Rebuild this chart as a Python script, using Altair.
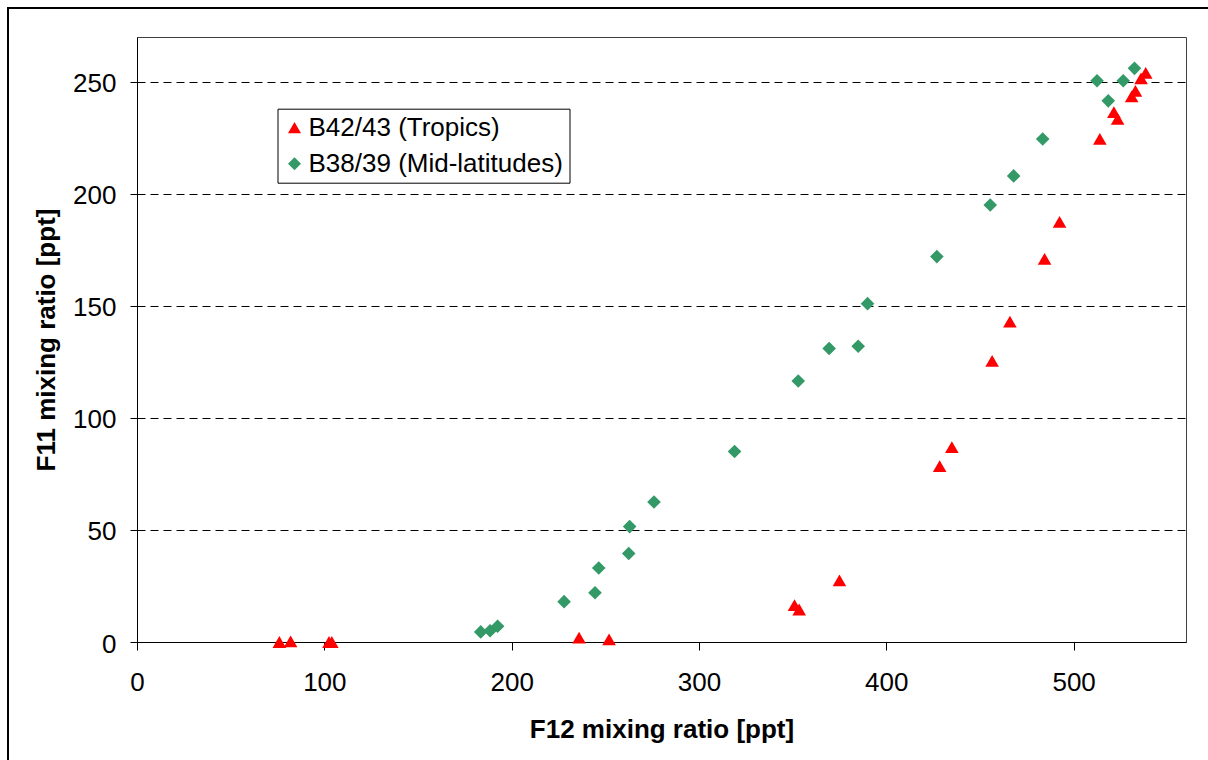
import altair as alt
import pandas as pd

# Tropics (red triangles): F12 [ppt], F11 [ppt]
trop_f12 = [76, 82, 102.5, 104, 236, 252, 351, 353.5, 375, 428.5, 435, 456.5, 466,
            484.5, 492.5, 514, 521.5, 523.5, 531, 533, 536, 538.5]
trop_f11 = [0, 0.3, 0, 0, 2, 1.2, 16.5, 14.5, 27.5, 78.5, 87, 125.5, 143,
            171, 187.5, 224.5, 236.5, 233.5, 243.5, 246, 251.5, 254]

# Mid-latitudes (green diamonds)
mid_f12 = [183.5, 188.5, 192.5, 228, 244.5, 246.5, 262.5, 263, 276, 319, 353, 369.5,
           385, 390, 427, 455.5, 468, 483.5, 512.5, 518.5, 526.5, 532.5]
mid_f11 = [4.5, 5, 7, 18, 22, 33, 39.5, 51.5, 62.5, 85, 116.5, 131,
           132, 151, 172, 195, 208, 224.5, 250.5, 241.5, 250.5, 256]

TROP = "B42/43 (Tropics)"
MID = "B38/39 (Mid-latitudes)"
series_names = [TROP, MID]
series_colors = ["#FF0000", "#339966"]
series_shapes = ["triangle-up", "diamond"]

x_ticks = [0, 100, 200, 300, 400, 500]
y_ticks = [0, 50, 100, 150, 200, 250]

rows = [{"f12": a, "f11": b, "series": MID} for a, b in zip(mid_f12, mid_f11)]
rows += [{"f12": a, "f11": b, "series": TROP} for a, b in zip(trop_f12, trop_f11)]
df = pd.DataFrame(rows)
df["order"] = range(len(df))

FONT = "Liberation Sans"
W, H = 1049, 605

points = alt.Chart(df).mark_point(filled=True, opacity=1, size=185).encode(
    x=alt.X("f12:Q",
            scale=alt.Scale(domain=[0, 560], nice=False, zero=False),
            axis=alt.Axis(values=x_ticks, grid=False, domainColor="black", domainWidth=1,
                          tickColor="black", tickSize=8, labelFont=FONT, labelFontSize=26,
                          labelColor="black", labelPadding=19, labelFlush=False,
                          labelOverlap=False,
                          title="F12 mixing ratio [ppt]", titleFont=FONT, titleFontSize=26,
                          titleFontWeight="bold", titleColor="black", titleX=W / 2,
                          titleY=95, titleBaseline="alphabetic", titleAlign="center")),
    y=alt.Y("f11:Q",
            scale=alt.Scale(domain=[0, 270], nice=False, zero=False),
            axis=alt.Axis(values=y_ticks, grid=True, gridDash=[8, 5], gridColor="black",
                          gridWidth=1, domainColor="black", domainWidth=1,
                          tickColor="black", tickSize=7, labelFont=FONT, labelFontSize=26,
                          labelColor="black", labelPadding=14, labelOffset=2,
                          labelFlush=False, labelOverlap=False,
                          title="F11 mixing ratio [ppt]", titleFont=FONT, titleFontSize=26,
                          titleFontWeight="bold", titleColor="black", titleAngle=270,
                          titleX=-83, titleY=H / 2, titleBaseline="alphabetic",
                          titleAlign="center")),
    color=alt.Color("series:N",
                    scale=alt.Scale(domain=series_names, range=series_colors),
                    legend=alt.Legend(title=None, orient="none", legendX=140.5, legendY=71.7,
                                      fillColor="white", strokeColor="black", padding=6,
                                      cornerRadius=0, labelFont=FONT, labelFontSize=26,
                                      labelColor="black", labelLimit=600, symbolSize=170,
                                      symbolOffset=-2, symbolStrokeWidth=0, labelOffset=1,
                                      rowPadding=10)),
    shape=alt.Shape("series:N",
                    scale=alt.Scale(domain=series_names, range=series_shapes)),
    order=alt.Order("order:Q"),
)

frame = alt.Chart(alt.Data(values=[{"a": 1}])).mark_rect(
    fillOpacity=0, stroke="black", strokeWidth=2
).encode(
    x=alt.value(-129), x2=alt.value(1100), y=alt.value(-29), y2=alt.value(760)
)

chart = alt.layer(frame, points).properties(
    width=W, height=H,
    autosize=alt.AutoSizeParams(type="none"),
    padding={"left": 137, "top": 37, "right": 22, "bottom": 118},
    background="white",
).configure_view(stroke="#404040", strokeWidth=1)

chart.save("out.html", embed_options={"renderer": "svg", "actions": False})
